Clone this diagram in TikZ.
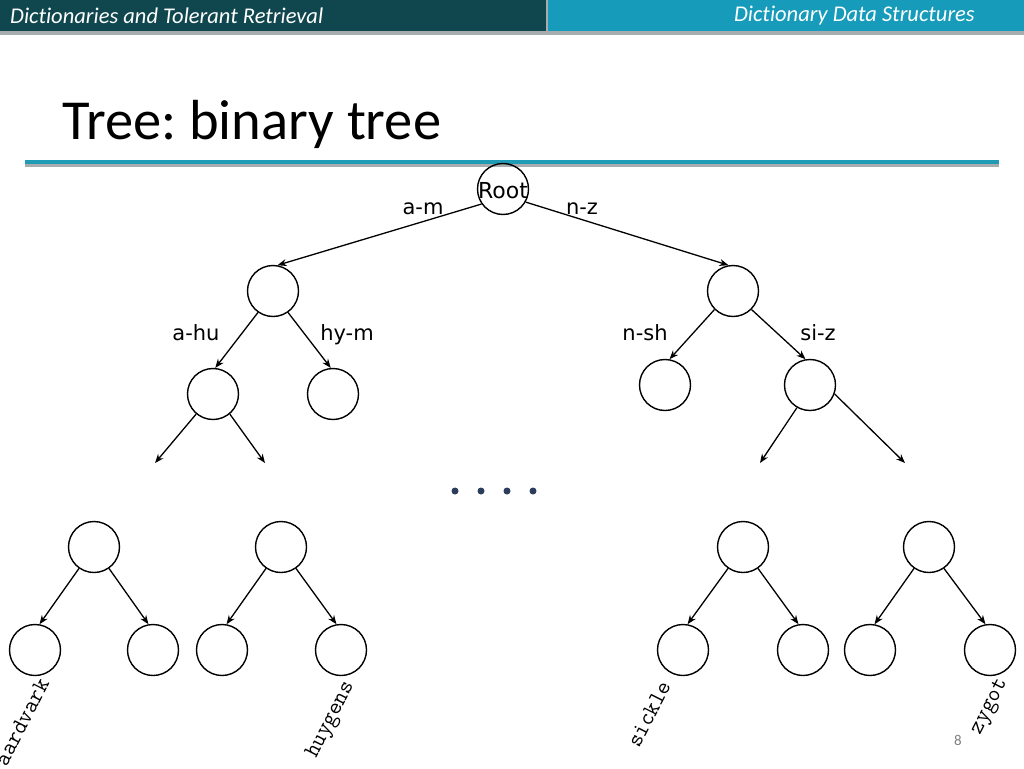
\documentclass[tikz,border=0pt]{standalone}
\usepackage{fontspec}
\setmainfont{Carlito}[Ligatures=NoCommon]
\newfontfamily\lblfont{DejaVu Sans}
\usetikzlibrary{arrows.meta}
\definecolor{hdark}{HTML}{10474F}
\definecolor{hlight}{HTML}{169BBA}
\definecolor{hgray}{HTML}{A7ADAF}
\definecolor{rule}{HTML}{1F9BB5}
\definecolor{dotc}{HTML}{2A3D5A}
\tikzset{
  tn/.style={draw, circle, minimum size=51pt, inner sep=0pt, line width=1.4pt},
  conn/.style={line width=1.3pt, -{Stealth[length=9pt,width=7pt]}},
  elbl/.style={font=\lblfont\fontsize{21}{24}\selectfont, inner sep=0pt, anchor=base},
  word/.style={font=\ttfamily\fontsize{23}{26}\selectfont, inner sep=0pt, rotate=63},
  hdr/.style={font=\itshape\fontsize{22.5}{26}\selectfont, text=white, inner sep=0pt},
  dotn/.style={circle, fill=dotc, minimum size=7pt, inner sep=0pt}
}
\begin{document}
\frenchspacing
\begin{tikzpicture}[x=1pt,y=-1pt]
\useasboundingbox (0,0) rectangle (1024,768);
\fill[white] (0,0) rectangle (1024,768);
% header
\fill[hgray] (0,31) rectangle (1024,35);
\fill[hdark] (0,0) rectangle (546,31);
\fill[hlight] (548,0) rectangle (1024,31);
\fill[hgray] (546,0) rectangle (548,34);
\node[hdr, anchor=west] (h1) at (10,16) {Dictionaries and Tolerant Retrieval};
\node[hdr, anchor=east] (h2) at (975,16) {Dictionary Data Structures};
% title
\node[anchor=base west, inner sep=0pt, font=\fontsize{56.5}{62}\selectfont] (title) at (62,139) {Tree: binary tree};
\fill[hgray] (25,163) rectangle (999,166.5);
\fill[rule] (25,159.5) rectangle (999,164);
% upper tree
\node[tn] (root) at (503,189) {};
\node[elbl, font=\lblfont\fontsize{22}{24}\selectfont] (roottxt) at (503,198) {Root};
\node[tn] (l1) at (273,291) {};
\node[tn] (r1) at (733,291) {};
\node[tn] (l2a) at (213,394) {};
\node[tn] (l2b) at (333,394) {};
\node[tn] (r2a) at (665,385) {};
\node[tn] (r2b) at (810,385) {};
\coordinate (la) at (155,463);
\coordinate (lb) at (265,463);
\coordinate (ra) at (760,463);
\coordinate (rb) at (905,463);
\draw[conn] (root.-145) -- (l1.80);
\draw[conn] (root.-30) -- (r1.100);
\draw[conn] (l1.-125) -- (l2a.85);
\draw[conn] (l1.-55) -- (l2b.95);
\draw[conn] (r1.-135) -- (r2a.80);
\draw[conn] (r1.-45) -- (r2b.100);
\draw[conn] (l2a.-130) -- (la);
\draw[conn] (l2a.-50) -- (lb);
\draw[conn] (r2b.-120) -- (ra);
\draw[conn] (r2b.-20) -- (rb);
\node[elbl] (lam) at (423,214) {a-m};
\node[elbl] (lnz) at (582,214) {n-z};
\node[elbl] (lahu) at (196,340) {a-hu};
\node[elbl] (lhym) at (347,340) {hy-m};
\node[elbl] (lnsh) at (645,340) {n-sh};
\node[elbl] (lsiz) at (818,340) {si-z};
% dots
\node[dotn] (d1) at (455,491) {};
\node[dotn] (d2) at (481,491) {};
\node[dotn] (d3) at (507,491) {};
\node[dotn] (d4) at (533,491) {};
% lower trees
\foreach \n/\px/\ax/\bx in {p1/94/35/153, p2/281/222/341, p3/743/683/803, p4/929/870/990}{
  \node[tn] (\n) at (\px,547) {};
  \node[tn] (\n a) at (\ax,650) {};
  \node[tn] (\n b) at (\bx,650) {};
  \draw[conn] (\n.-125) -- (\n a.80);
  \draw[conn] (\n.-55) -- (\n b.100);
}
\node[word] (waard) at (22,722) {aardvark};
\node[word] (whuy) at (331,720) {huygens};
\node[word] (wsic) at (649,714) {sickle};
\node[word] (wzyg) at (990,707) {zygot};
\node[inner sep=0pt, text=gray, font=\fontsize{15}{17}\selectfont] (pg) at (958,740) {8};
\end{tikzpicture}
\end{document}
